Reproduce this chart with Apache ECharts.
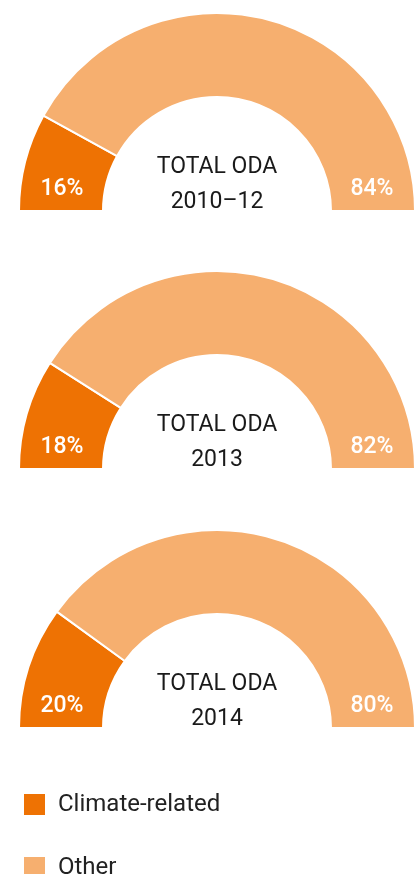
<!DOCTYPE html>
<html>
<head>
<meta charset="utf-8">
<script src="https://cdn.jsdelivr.net/npm/echarts@6/dist/echarts.min.js"></script>
<style>
html,body{margin:0;padding:0;background:#fff;}
#chart{width:415px;height:874px;}
</style>
</head>
<body>
<div id="chart"></div>
<script>
const periods = ['2010–12', '2013', '2014'];
const climateRelated = [16, 18, 20];
const otherShare = [84, 82, 80];
const seriesNames = ['Climate-related', 'Other'];
const centerTitle = 'TOTAL ODA';

const colors = ['#EE7203', '#F6AF6F'];
const cx = 217;
const centersY = [211, 469, 728];
const rIn = 114, rOut = 198;
const fontFam = 'Roboto, "Noto Sans", sans-serif';

const chart = echarts.init(document.getElementById('chart'), null, {renderer: 'canvas'});

const series = periods.map((p, k) => {
  const cy = centersY[k];
  const total = climateRelated[k] + otherShare[k];
  return {
    type: 'pie',
    name: p,
    center: [cx, cy],
    radius: [rIn, rOut],
    startAngle: 180,
    clockwise: true,
    avoidLabelOverlap: false,
    emphasis: {disabled: true},
    animation: false,
    label: {
      show: true,
      position: 'inside',
      formatter: '{c}%',
      color: '#fff',
      fontSize: 23,
      fontFamily: fontFam,
      fontWeight: 500
    },
    labelLine: {show: false},
    labelLayout: function (params) {
      const mid = (rIn + rOut) / 2 - 1;
      const dx = params.dataIndex === 0 ? -mid : mid;
      return {x: cx + dx, y: cy - 22, align: 'center', verticalAlign: 'middle'};
    },
    itemStyle: {borderColor: '#fff', borderWidth: 2},
    data: [
      {name: seriesNames[0], value: climateRelated[k], itemStyle: {color: colors[0]}},
      {name: seriesNames[1], value: otherShare[k], itemStyle: {color: colors[1]}},
      {name: '', value: total, itemStyle: {color: 'rgba(0,0,0,0)', borderWidth: 0}, label: {show: false}, tooltip: {show: false}}
    ]
  };
});

const graphics = periods.map((p, k) => ({
  type: 'text',
  x: cx,
  y: centersY[k] - 26,
  silent: true,
  style: {
    text: centerTitle + '\n' + p,
    align: 'center',
    verticalAlign: 'middle',
    font: '400 23px ' + fontFam,
    lineHeight: 35,
    fill: '#1a1a1a'
  }
}));

const legendTops = [792, 855];
const legends = seriesNames.map((n, i) => ({
  data: [n],
  orient: 'vertical',
  left: 22,
  top: legendTops[i],
  padding: 0,
  icon: 'rect',
  itemWidth: 23,
  itemHeight: 23,
  selectedMode: false,
  textStyle: {fontSize: 24, color: '#222', fontFamily: fontFam, padding: [0, 0, 0, 7]}
}));

chart.setOption({
  backgroundColor: '#fff',
  animation: false,
  color: colors,
  legend: legends,
  graphic: graphics,
  series: series
});
</script>
</body>
</html>
